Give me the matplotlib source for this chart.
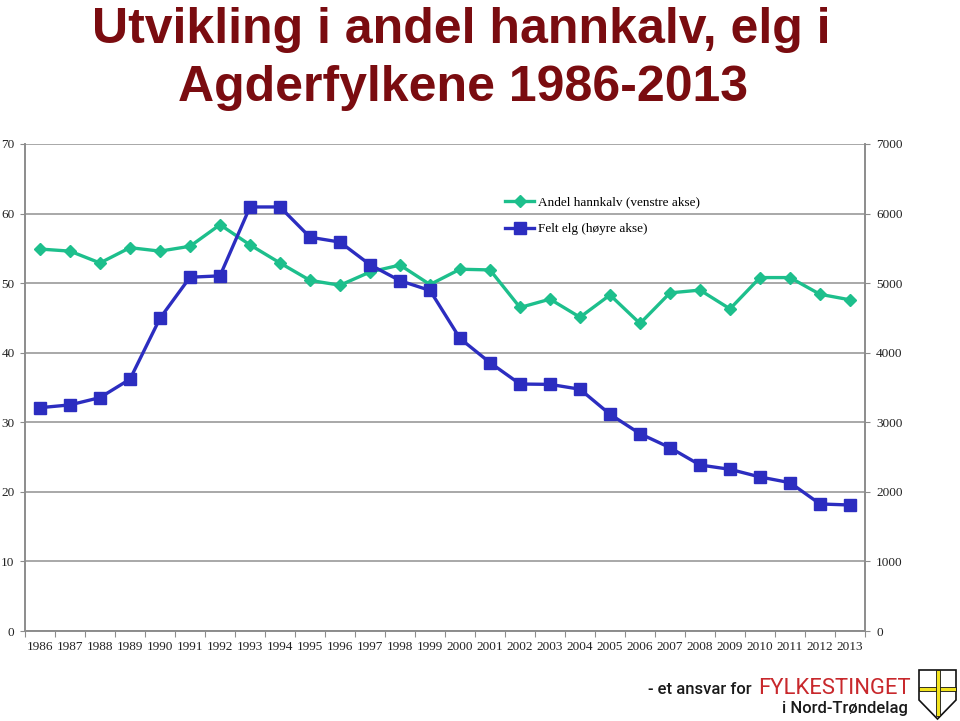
import matplotlib.pyplot as plt
from matplotlib.patches import Polygon
import numpy as np

# Data
years = list(range(1986, 2014))
andel_hannkalv = [54.9, 54.6, 52.9, 55.1, 54.6, 55.3, 58.4, 55.5, 52.9, 50.4,
                  49.7, 51.6, 52.6, 49.8, 52.0, 51.9, 46.5, 47.7, 45.1, 48.3,
                  44.2, 48.6, 49.0, 46.3, 50.8, 50.8, 48.4, 47.6]
felt_elg = [3210, 3250, 3355, 3620, 4495, 5085, 5105, 6095, 6095, 5660,
            5590, 5265, 5035, 4895, 4205, 3857, 3550, 3545, 3475, 3115,
            2836, 2635, 2386, 2324, 2214, 2132, 1826, 1811]

green = '#1DBF8C'
blue = '#2C2DC0'
grey = '#8c8c8c'
serif = 'Liberation Serif'

fig = plt.figure(figsize=(9.6, 7.21), dpi=100)
ax = fig.add_axes([25 / 960, 90 / 721, 840 / 960, 487 / 721])
ax2 = ax.twinx()

x = np.arange(len(years))
l1, = ax.plot(x, andel_hannkalv, color=green, lw=2.4, marker='D', ms=6.5,
              label='Andel hannkalv (venstre akse)')
l2, = ax2.plot(x, felt_elg, color=blue, lw=2.4, marker='s', ms=9,
               label='Felt elg (høyre akse)')

ax.set_xlim(-0.5, len(years) - 0.5)
ax.set_ylim(0, 70)
ax2.set_ylim(0, 7000)
ax.set_yticks(range(0, 71, 10))
ax2.set_yticks(range(0, 7001, 1000))
ax.yaxis.grid(True, color='#9a9a9a', lw=1.2)
ax.set_axisbelow(True)

# category boundaries get the tick marks, labels sit in the middle
ax.set_xticks(np.arange(len(years) + 1) - 0.5)
ax.set_xticklabels([])
ax.set_xticks(x, minor=True)
ax.set_xticklabels([str(y) for y in years], minor=True, fontfamily=serif,
                   fontsize=9.5, color='#222222')
ax.tick_params(axis='x', which='major', length=4, color=grey, direction='out')
ax.tick_params(axis='x', which='minor', length=0, pad=7)
ax.tick_params(axis='y', length=3.5, color=grey, pad=4)
ax2.tick_params(axis='y', length=3.5, color=grey, pad=4.5)

for lab in ax.get_yticklabels() + ax2.get_yticklabels():
    lab.set_fontfamily(serif)
    lab.set_fontsize(9.5)
    lab.set_color('#222222')

for a in (ax, ax2):
    a.spines['top'].set_visible(False)
    for s in ('left', 'right', 'bottom'):
        a.spines[s].set_color(grey)
        a.spines[s].set_linewidth(1.2)

fig.legend(handles=[l1, l2], loc='upper left', bbox_to_anchor=(500 / 960, 1 - 191 / 721),
           frameon=False, prop={'family': serif, 'size': 9.5}, handlelength=2.2,
           handletextpad=0.3, labelspacing=1.1, borderaxespad=0)

# Title
title_col = '#7A0C10'
fig.text(0.48, 1 - 43 / 721, 'Utvikling i andel hannkalv, elg i', ha='center',
         va='baseline', fontsize=36, fontweight='bold', color=title_col,
         family='Liberation Sans')
fig.text(0.482, 1 - 101 / 721, 'Agderfylkene 1986-2013', ha='center',
         va='baseline', fontsize=36, fontweight='bold', color=title_col,
         family='Liberation Sans')

# Logo bits at the bottom right
fig.text(752 / 960, 1 - 694 / 721, '- et ansvar for', ha='right', va='baseline',
         fontsize=12, color='#1a1a1a', family='Roboto', fontweight='medium')
fig.text(758 / 960, 1 - 694 / 721, 'FYLKESTINGET', ha='left', va='baseline',
         fontsize=15.8, color='#C8282C', family='Roboto')
fig.text(908 / 960, 1 - 713 / 721, 'i Nord-Trøndelag', ha='right', va='baseline',
         fontsize=12, color='#1a1a1a', family='Roboto', fontweight='medium')


def fpt(px, py):
    return (px / 960, 1 - py / 721)


shield = Polygon([fpt(919, 670), fpt(956, 670), fpt(956, 700), fpt(937.5, 719),
                  fpt(919, 700)], closed=True, transform=fig.transFigure,
                 facecolor='white', edgecolor='#111111', lw=1.2)
cross_v = Polygon([fpt(935.5, 670), fpt(939.5, 670), fpt(939.5, 716), fpt(935.5, 716)],
                  closed=True, transform=fig.transFigure, facecolor='#F2E31E',
                  edgecolor='#111111', lw=0.6)
cross_h = Polygon([fpt(919, 687), fpt(956, 687), fpt(956, 691), fpt(919, 691)],
                  closed=True, transform=fig.transFigure, facecolor='#F2E31E',
                  edgecolor='#111111', lw=0.6)
for p in (shield, cross_h, cross_v):
    fig.patches.append(p)

fig.savefig('out.png', dpi=100)
